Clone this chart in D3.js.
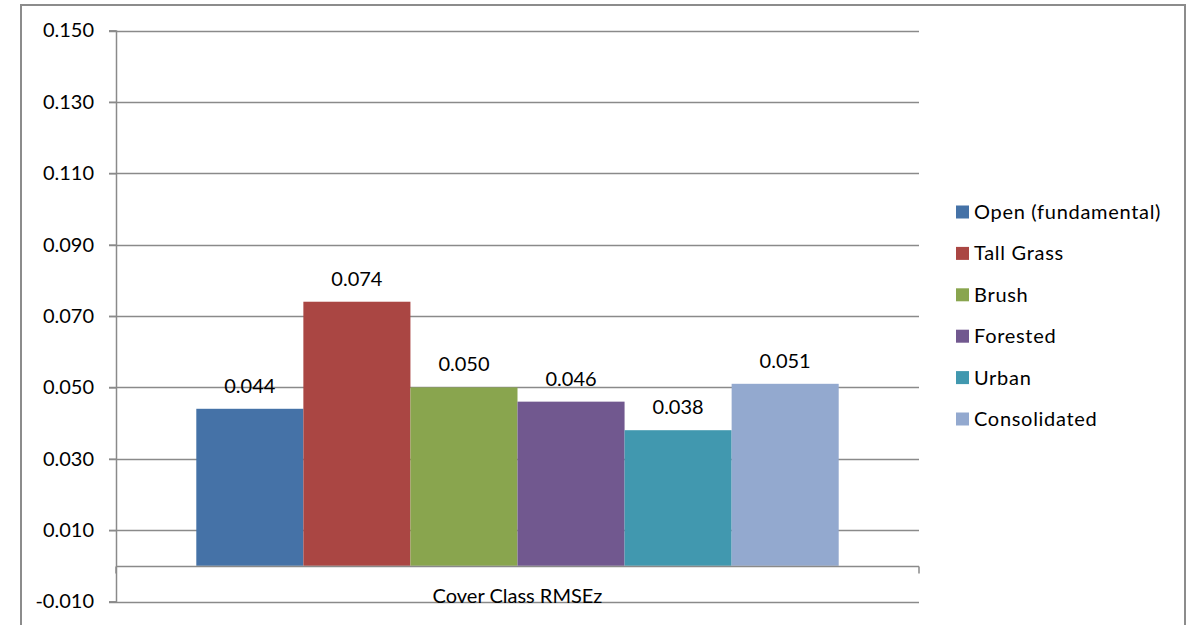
<!DOCTYPE html>
<html>
<head>
<meta charset="utf-8">
<script src="https://cdn.jsdelivr.net/npm/d3@7"></script>
<style>
  body { margin: 0; background: #fff; }
  text { font-family: Lato, "Open Sans", sans-serif; fill: #000; }
</style>
</head>
<body>
<div id="chart"></div>
<script>
const categories = ['Cover Class RMSEz'];
const seriesNames = ['Open (fundamental)', 'Tall Grass', 'Brush', 'Forested', 'Urban', 'Consolidated'];
const seriesValues = [0.044, 0.074, 0.050, 0.046, 0.038, 0.051];
const seriesColors = ['#4572A7', '#AA4643', '#89A54E', '#71588F', '#4198AF', '#93A9CF'];
const yTicks = [-0.010, 0.010, 0.030, 0.050, 0.070, 0.090, 0.110, 0.130, 0.150];

const W = 1195, H = 625;
const plot = { left: 116, right: 919, top: 30.5, bottom: 601.5 };
const fmt = v => d3.format('.3f')(v).replace('\u2212', '-');

const svg = d3.select('#chart').append('svg')
    .attr('width', W)
    .attr('height', H);

// outer chart frame
svg.append('rect')
    .attr('x', 21).attr('y', 5)
    .attr('width', 1164).attr('height', 640)
    .attr('fill', 'none')
    .attr('stroke', '#8c8c8c')
    .attr('stroke-width', 2);

const y = d3.scaleLinear()
    .domain([-0.010, 0.150])
    .range([plot.bottom, plot.top]);

const x0 = d3.scaleBand()
    .domain(categories)
    .range([plot.left, plot.right]);

// 150% gap width: six bars plus 0.75 bar width on each side
const x1 = d3.scaleBand()
    .domain(seriesNames)
    .range([0, x0.bandwidth()])
    .paddingInner(0)
    .paddingOuter(0.75);

// gridlines
svg.append('g')
    .selectAll('line')
    .data(yTicks)
    .join('line')
    .attr('x1', plot.left - 7)
    .attr('x2', plot.right)
    .attr('y1', d => Math.round(y(d)) + 0.5)
    .attr('y2', d => Math.round(y(d)) + 0.5)
    .attr('stroke', '#8a8a8a')
    .attr('stroke-width', 1.5);

// y axis
const yAxis = svg.append('g')
    .attr('transform', `translate(${plot.left},0)`)
    .call(d3.axisLeft(y).tickValues(yTicks).tickFormat(fmt).tickSize(7).tickPadding(15));
yAxis.select('.domain').attr('stroke', '#8a8a8a').attr('stroke-width', 1.5);
yAxis.selectAll('.tick line').attr('stroke', '#8a8a8a').attr('stroke-width', 1.5);
yAxis.selectAll('.tick text')
    .style('font-family', 'Lato, sans-serif')
    .style('font-size', '20px')
    .attr('fill', '#000');

// bars
const group = svg.append('g')
    .selectAll('g')
    .data(categories)
    .join('g')
    .attr('transform', d => `translate(${x0(d)},0)`);

const items = seriesNames.map((name, i) => ({ name, value: seriesValues[i], color: seriesColors[i] }));

group.selectAll('rect')
    .data(items)
    .join('rect')
    .attr('x', d => x1(d.name))
    .attr('y', d => y(d.value))
    .attr('width', x1.bandwidth())
    .attr('height', d => y(0) - y(d.value))
    .attr('fill', d => d.color);

group.selectAll('text.lbl')
    .data(items)
    .join('text')
    .attr('class', 'lbl')
    .attr('x', d => x1(d.name) + x1.bandwidth() / 2)
    .attr('y', d => y(d.value) - 16)
    .attr('text-anchor', 'middle')
    .style('font-size', '20px')
    .text(d => fmt(d.value));

// x axis at zero
const x0Line = svg.append('g')
    .attr('transform', `translate(0,${Math.round(y(0)) + 0.5})`);
x0Line.append('line')
    .attr('x1', plot.left).attr('x2', plot.right)
    .attr('stroke', '#8a8a8a').attr('stroke-width', 1.5);
x0Line.selectAll('line.tick')
    .data([plot.left, plot.right])
    .join('line')
    .attr('class', 'tick')
    .attr('x1', d => d).attr('x2', d => d)
    .attr('y1', 0).attr('y2', 7)
    .attr('stroke', '#8a8a8a').attr('stroke-width', 1.5);

svg.append('g')
    .selectAll('text')
    .data(categories)
    .join('text')
    .attr('x', d => x0(d) + x0.bandwidth() / 2)
    .attr('y', 603)
    .attr('text-anchor', 'middle')
    .style('font-size', '20px')
    .text(d => d);

// legend
const legend = svg.append('g')
    .attr('transform', 'translate(956,212)');
const row = legend.selectAll('g')
    .data(items)
    .join('g')
    .attr('transform', (d, i) => `translate(0,${i * 41.4})`);
row.append('rect')
    .attr('x', 0).attr('y', -6.5)
    .attr('width', 13).attr('height', 13)
    .attr('fill', d => d.color);
row.append('text')
    .attr('x', 18)
    .attr('y', 0)
    .attr('dy', '0.35em')
    .style('font-size', '20px')
    .style('letter-spacing', '0.7px')
    .text(d => d.name);
</script>
</body>
</html>
